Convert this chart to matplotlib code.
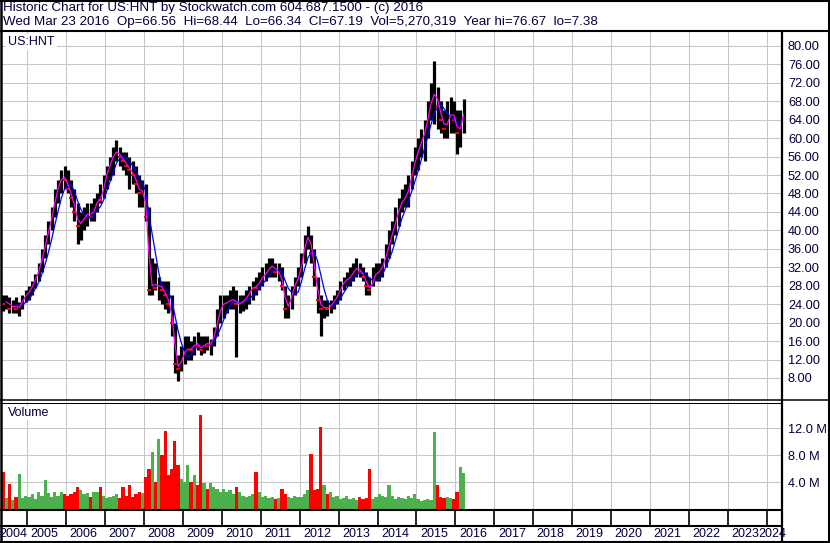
import numpy as np
import pandas as pd
import matplotlib
matplotlib.use("Agg")
import matplotlib.pyplot as plt
from matplotlib.lines import Line2D

# ---------------- data (monthly) ----------------
start_month = "2004-05"
end_month = "2016-03"

high = [26, 26, 25.5, 25, 25.5, 24.5, 26, 27,
        28, 29, 30.5, 33, 36, 39, 42, 45, 49, 51, 53, 54,
        53, 51, 49, 46, 44, 45, 46, 46, 47, 48, 50, 52,
        54, 56, 58, 59.5, 58, 57, 57, 56, 55, 54, 52, 51,
        50, 45, 34, 33, 30, 29, 29, 29, 26, 20, 13, 15,
        17, 17, 16, 17, 18, 17, 17, 17, 16.5, 19, 23, 26,
        26, 26, 27, 28, 27, 26, 26, 27, 28, 29, 30, 31,
        32, 33, 34, 34, 33, 33, 32, 28, 26, 28, 30, 32,
        35, 39, 41, 39, 36, 30, 26, 25, 25, 25, 26, 27,
        29, 30, 31, 32, 33, 34, 33, 32, 31, 30, 32, 33,
        33, 34, 37, 40, 42, 45, 47, 49, 50, 52, 55, 58,
        60, 62, 64, 68, 72, 76.67, 71, 68, 66, 68, 69, 68,
        66, 66, 68.44]

low = [22.5, 23, 22, 22, 22, 21.5, 23, 24.5,
       25, 26, 27.5, 29, 31, 34, 37, 40, 43, 46, 48, 49,
       48, 45, 42, 37, 38, 40, 41, 42, 42, 44, 46, 47,
       49, 51, 52, 55, 54, 53, 52, 49, 50, 48, 45, 45,
       42, 26, 26, 27, 25, 24, 23, 22, 17, 9, 7.38, 9.5,
       11, 12, 12, 13, 14, 13, 13.5, 14, 13, 15, 17, 20,
       21, 22, 23, 23, 12.5, 22, 22.5, 23, 24, 25, 26, 27,
       28, 29, 30, 30, 30, 29, 27, 21, 21, 23, 26, 28,
       30, 33, 36, 33, 28, 22, 17, 21, 21.5, 22, 23, 24,
       25, 27, 28, 28, 29, 30, 30, 29, 26, 26, 28, 29,
       29, 30, 32, 34, 37, 39, 41, 44, 45, 45, 49, 52,
       53, 56, 55, 60, 64, 63, 62, 61, 60, 60, 61, 61,
       56.5, 58, 61]

close = [24, 25, 23, 24, 23, 23.5, 25.5, 26,
         27, 28.5, 30, 32, 35, 38, 41, 44, 48, 50, 52, 51,
         49, 47, 44, 41, 42, 43, 44, 43, 45, 47, 46.5, 51,
         53, 55, 57, 57, 56, 55, 54, 53, 52, 50, 48, 49,
         43, 27, 29, 27.5, 28.5, 27, 26, 24, 20, 11, 10, 13,
         14, 14.5, 14, 16, 15, 14, 16, 15, 15.5, 18, 21, 24,
         24, 24.5, 25, 25, 24, 24, 25, 25.5, 27, 28, 27.5, 29.5,
         30, 31, 32, 32.5, 31, 31, 28, 23, 24, 27, 29, 30,
         34, 38, 39, 35, 30, 25, 23, 23.5, 23, 24, 25, 26,
         28, 29, 29.5, 30, 31.5, 32, 31, 30, 28, 27, 30, 31,
         31, 33, 35, 38, 40, 43, 45, 47, 47, 50, 53, 56,
         58, 60, 62, 66, 69, 70, 67, 64, 62, 64, 66, 64,
         61, 63, 67.19]

volume_m = [5.5, 1.6, 3.7, 1.4, 1.8, 5.2, 1.6, 2.0,
            1.8, 2.2, 1.5, 2.5, 2.0, 4.3, 2.4, 1.8, 2.6, 2.0, 2.5, 2.2,
            2.0, 2.3, 2.6, 3.3, 2.8, 2.2, 2.4, 1.8, 2.5, 2.6, 3.3, 1.9,
            1.6, 1.8, 2.0, 2.2, 1.6, 3.3, 2.0, 3.5, 1.8, 2.2, 2.6, 2.4,
            4.8, 6.0, 8.5, 4.0, 10.4, 8.0, 11.6, 5.0, 6.0, 10.1, 6.5, 4.5,
            4.0, 6.5, 4.0, 5.0, 3.5, 14.0, 3.8, 3.0, 3.8, 3.2, 3.0, 2.5,
            3.0, 2.5, 2.8, 2.2, 3.2, 2.5, 2.0, 1.8, 2.0, 2.3, 5.5, 2.5,
            1.8, 2.0, 1.6, 1.8, 1.5, 1.6, 3.0, 2.2, 1.8, 1.6, 2.0, 1.8,
            1.8, 2.2, 2.8, 8.1, 2.8, 3.0, 12.2, 3.5, 2.2, 2.6, 1.8, 2.0,
            1.5, 1.6, 2.0, 1.5, 1.6, 1.4, 1.8, 1.5, 1.6, 5.9, 1.5, 1.8,
            2.2, 2.0, 1.8, 3.5, 2.0, 1.5, 1.8, 1.6, 1.5, 2.0, 1.7, 2.3,
            1.5, 1.2, 1.4, 1.5, 1.3, 11.4, 3.5, 1.8, 1.7, 1.8, 1.7, 1.5,
            2.6, 6.3, 5.4]

price_ticks = [8, 12, 16, 20, 24, 28, 32, 36, 40, 44, 48, 52, 56, 60, 64, 68, 72, 76, 80]
volume_ticks = [4, 8, 12]
year_labels = list(range(2004, 2025))

header_line1 = "Historic Chart for US:HNT by Stockwatch.com 604.687.1500 - (c) 2016"
header_line2 = ("Wed Mar 23 2016  Op=66.56  Hi=68.44  Lo=66.34  Cl=67.19  "
                "Vol=5,270,319  Year hi=76.67  lo=7.38")
symbol = "US:HNT"

# ---------------- setup ----------------
plt.rcParams['font.family'] = ['Liberation Sans', 'DejaVu Sans']
TXT = '#00003c'
GRID = '#c8c8c8'
W, H = 830, 543
fig = plt.figure(figsize=(W / 100, H / 100), dpi=100)
fig.patch.set_facecolor('white')


def box(x0, y0, x1, y1):
    return [x0 / W, 1 - y1 / H, (x1 - x0) / W, (y1 - y0) / H]


def px_to_year(px):
    return 2005 + (px - 27.3) / 38.92


def year_to_px(yr):
    return 27.3 + (yr - 2005) * 38.92


xlim = (px_to_year(2), px_to_year(781))

months = pd.period_range(start_month, end_month, freq='M')
t = np.array([p.year + (p.month - 0.5) / 12 for p in months])
high = np.array(high)
low = np.array(low)
close = np.array(close)
vol = np.array(volume_m)
prev = np.concatenate([[close[0] + 1], close[:-1]])
up = close >= prev

# ---------------- price panel ----------------
axp = fig.add_axes(box(2, 32, 781, 400))
axp.set_xlim(xlim)
axp.set_ylim(3.23, 83.0)
for s in axp.spines.values():
    s.set_visible(False)
axp.set_xticks(year_labels[1:])
axp.set_xticklabels([])
axp.tick_params(axis='x', length=0)
axp.yaxis.tick_right()
axp.set_yticks(price_ticks)
axp.set_yticklabels([f'{v:.2f}' for v in price_ticks])
axp.tick_params(axis='y', length=0, pad=5, labelsize=9.2, labelcolor=TXT)
axp.grid(True, color=GRID, lw=0.75)
axp.set_axisbelow(True)

lc = axp.vlines(t, low, high, color='black', lw=2.3)
lc.set_capstyle('butt')
down = ~up
axp.plot(t[down], close[down], ls='none', marker='_', color='red', ms=3.2, mew=1.4)
ma_fast = pd.Series(close).rolling(2).mean()
ma_slow = pd.Series(close).rolling(5).mean()
axp.plot(t, ma_slow, color='#0000ff', lw=0.9)
axp.plot(t, ma_fast, color='#ff00ff', lw=0.9)

# ---------------- volume panel ----------------
axv = fig.add_axes(box(2, 402, 781, 509))
axv.set_xlim(xlim)
axv.set_ylim(0, 15.9)
for s in axv.spines.values():
    s.set_visible(False)
axv.set_xticks(year_labels[1:])
axv.set_xticklabels([])
axv.tick_params(axis='x', length=0)
axv.yaxis.tick_right()
axv.set_yticks(volume_ticks)
axv.set_yticklabels([f'{v:.1f} M' for v in volume_ticks])
axv.tick_params(axis='y', length=0, pad=5, labelsize=9.2, labelcolor=TXT)
axv.grid(True, color=GRID, lw=0.75)
axv.set_axisbelow(True)
axv.bar(t, vol, width=1 / 12, color=np.where(up, '#4cb04c', '#ff0000'), lw=0)

# ---------------- tick row ----------------
axt = fig.add_axes(box(2, 509, 781, 525))
axt.set_xlim(xlim)
axt.set_ylim(0, 1)
axt.axis('off')
for yr in year_labels[1:]:
    axt.axvline(yr, color='black', lw=1.2)

# year labels
for yr in year_labels:
    xp = year_to_px(yr) + 3.5
    ha = 'left'
    if yr == year_labels[0]:
        xp = -1
    if yr == year_labels[-1]:
        xp, ha = 786, 'right'
    fig.text(xp / W, 1 - 534 / H, str(yr), ha=ha, va='center', fontsize=9, color=TXT)

# ---------------- frame lines ----------------
def hline(y, x0, x1, lw):
    fig.add_artist(Line2D([x0 / W, x1 / W], [1 - y / H, 1 - y / H], color='black', lw=lw,
                          transform=fig.transFigure, solid_capstyle='butt'))


def vline(x, y0, y1, lw):
    fig.add_artist(Line2D([x / W, x / W], [1 - y0 / H, 1 - y1 / H], color='black', lw=lw,
                          transform=fig.transFigure, solid_capstyle='butt'))


hline(31, 0, 830, 1.5)
hline(400.2, 0, 830, 1.1)
hline(402.6, 0, 782, 0.75)
hline(509.5, 0, 782, 1.5)
hline(525.5, 0, 782, 1.5)
vline(782.2, 31, 543, 1.6)
# outer border
hline(0.6, 0, 830, 1.5)
hline(542.2, 0, 830, 1.5)
vline(0.7, 0, 543, 1.8)
vline(828.8, 0, 543, 1.5)

# ---------------- texts ----------------
fig.text(3 / W, 1 - 8.5 / H, header_line1, ha='left', va='center', fontsize=9.6, color=TXT)
fig.text(3 / W, 1 - 22.5 / H, header_line2, ha='left', va='center', fontsize=9.6, color=TXT)
fig.text(8 / W, 1 - 42 / H, symbol, ha='left', va='center', fontsize=9, color=TXT,
         bbox=dict(facecolor='white', edgecolor='none', pad=1.5))
fig.text(8 / W, 1 - 413 / H, "Volume", ha='left', va='center', fontsize=9, color=TXT,
         bbox=dict(facecolor='white', edgecolor='none', pad=1.0))

fig.savefig("out.png", dpi=100)
